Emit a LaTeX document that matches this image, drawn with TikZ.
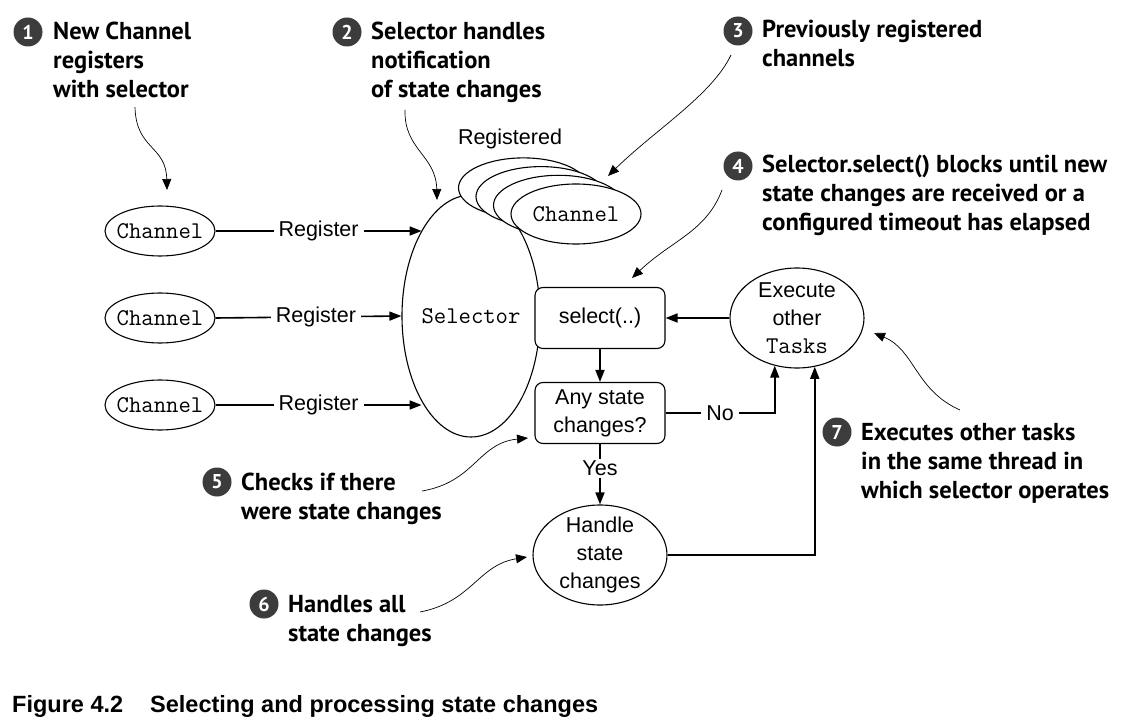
\documentclass[tikz,border=0pt]{standalone}
\usepackage{fontspec}
\setmainfont{Liberation Sans}
\newfontfamily\annfont{PT Sans}
\newcommand\codefont{\ttfamily\fontsize{24}{24}\selectfont}
\usetikzlibrary{arrows.meta,shapes.geometric,calc}
\definecolor{numgray}{HTML}{3C3C3C}
\newcommand\annlines[1]{\begin{tabular}[t]{@{}l@{}}#1\end{tabular}}
\begin{document}
\begin{tikzpicture}[x=1pt,y=-1pt,
  diag/.style={font=\fontsize{21.5}{28}\selectfont},
  ell/.style={draw,ellipse,line width=1.1pt,fill=white,inner sep=-8pt,align=center,font=\fontsize{21.5}{28}\selectfont},
  rbox/.style={draw,rounded corners=8pt,line width=1.1pt,fill=white,minimum width=130pt,minimum height=61pt,align=center,inner sep=0pt,font=\fontsize{21.5}{28}\selectfont},
  flow/.style={line width=1.6pt,-{Triangle[length=12pt,width=9pt]}},
  note/.style={line width=0.7pt,-{Triangle[length=11pt,width=9pt]}},
  lbl/.style={fill=white,inner xsep=5pt,inner ysep=2pt,font=\fontsize{21.5}{24}\selectfont},
  num/.style={circle,fill=numgray,text=white,minimum size=29pt,inner sep=0pt,font=\annfont\bfseries\fontsize{20}{20}\selectfont},
  anntext/.style={anchor=base west,inner sep=0pt,font=\annfont\bfseries\fontsize{24.5}{29}\selectfont}
]
\useasboundingbox (0,0) rectangle (1138,722);

% ---- main diagram ----
\node[ell,minimum width=110pt,minimum height=50pt] (ch1) at (160,231) {\codefont Channel};
\node[ell,minimum width=110pt,minimum height=50pt] (ch2) at (160,318) {\codefont Channel};
\node[ell,minimum width=110pt,minimum height=50pt] (ch3) at (160,405) {\codefont Channel};

\node[ell,minimum width=138pt,minimum height=242pt] (sel) at (471,316) {\codefont Selector};

\node[ell,minimum width=130pt,minimum height=60pt] (r1) at (523.5,187.9) {};
\node[ell,minimum width=130pt,minimum height=60pt] (r2) at (541,196.6) {};
\node[ell,minimum width=130pt,minimum height=60pt] (r3) at (558.5,205.3) {};
\node[ell,minimum width=130pt,minimum height=60pt] (r4) at (576,214) {\codefont Channel};
\node[diag] (reg) at (510,139) {Registered};

\node[rbox] (selb) at (600,318) {select(..)};
\node[rbox] (any) at (600,413) {Any state\\changes?};
\node[ell,minimum width=134pt,minimum height=100pt] (exe) at (797,318) {Execute\\other\\{\codefont Tasks}};
\node[ell,minimum width=134pt,minimum height=100pt] (hd) at (600,555) {Handle\\state\\changes};

\draw[flow] (ch1.east) -- node[lbl]{Register} (ch1.east -| sel.120);
\draw[flow] (ch2.east) -- node[lbl,pos=0.54]{Register} (sel.west);
\draw[flow] (ch3.east) -- node[lbl]{Register} (ch3.east -| sel.240);

\draw[flow] (selb.south) -- (any.north);
\draw[flow] (exe.west) -- (selb.east);
\draw[flow] (any.east) -- node[lbl]{No} (any.east -| exe.245) -- (exe.245);
\draw[flow] (any.south) -- node[lbl,pos=0.4]{Yes} (hd.north);
\draw[flow] (hd.east) -- (hd.east -| exe.290) -- (exe.290);

% ---- annotations ----
\node[num] (n1) at (28,32) {1};
\node[anntext] (t1) at (53,40) {\annlines{New Channel\\registers\\with selector}};
\node[num] (n2) at (347,32) {2};
\node[anntext] (t2) at (371,40) {\annlines{Selector handles\\notification\\of state changes}};
\node[num] (n3) at (738,31) {3};
\node[anntext] (t3) at (762,38) {\annlines{Previously registered\\channels}};
\node[num] (n4) at (738,166) {4};
\node[anntext] (t4) at (762,173) {\annlines{Selector.select() blocks until new\\state changes are received or a\\configured timeout has elapsed}};
\node[num] (n5) at (217,482) {5};
\node[anntext] (t5) at (241,490) {\annlines{Checks if there\\were state changes}};
\node[num] (n6) at (264,604) {6};
\node[anntext] (t6) at (288,612) {\annlines{Handles all\\state changes}};
\node[num] (n7) at (837,432) {7};
\node[anntext] (t7) at (861,440) {\annlines{Executes other tasks\\in the same thread in\\which selector operates}};

\coordinate (a1s) at (135,107); \coordinate (a1e) at (167,190);
\coordinate (a2s) at (405,110); \coordinate (a2e) at (437,200);
\coordinate (a3s) at (731,55);  \coordinate (a3e) at (608,176);
\coordinate (a4s) at (722,190); \coordinate (a4e) at (632,278);
\coordinate (a5s) at (422,491); \coordinate (a5e) at (528,438);
\coordinate (a6s) at (420,612); \coordinate (a6e) at (527,557);
\coordinate (a7s) at (960,410); \coordinate (a7e) at (874,333);
\draw[note] (a1s) .. controls (136,150) and (166,145) .. (a1e);
\draw[note] (a2s) .. controls (404,150) and (436,155) .. (a2e);
\draw[note] (a3s) .. controls (712,95) and (655,130) .. (a3e);
\draw[note] (a4s) .. controls (706,232) and (672,240) .. (a4e);
\draw[note] (a5s) .. controls (475,482) and (478,443) .. (a5e);
\draw[note] (a6s) .. controls (472,602) and (478,565) .. (a6e);
\draw[note] (a7s) .. controls (915,390) and (915,350) .. (a7e);

% ---- caption ----
\node[anchor=base west,inner sep=0pt,font=\bfseries\fontsize{23.5}{23.5}\selectfont] (cap1) at (12,712) {Figure 4.2};
\node[anchor=base west,inner sep=0pt,font=\bfseries\fontsize{23.5}{23.5}\selectfont] (cap2) at (150,712) {Selecting and processing state changes};
\end{tikzpicture}
\end{document}
